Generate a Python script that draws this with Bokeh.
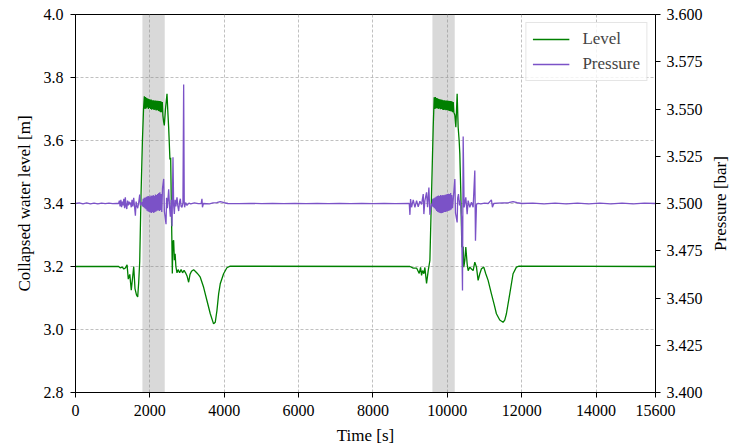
import math
from bokeh.plotting import figure
from bokeh.layouts import row
from bokeh.models import Range1d, LinearAxis, FixedTicker, BoxAnnotation, Legend, PrintfTickFormatter, Label
from bokeh.embed import file_html
from bokeh.resources import INLINE

# ---------------- data ----------------
time_ticks = [0, 2000, 4000, 6000, 8000, 10000, 12000, 14000, 15600]
level_ticks = [2.8, 3.0, 3.2, 3.4, 3.6, 3.8, 4.0]
pressure_ticks = [3.400, 3.425, 3.450, 3.475, 3.500, 3.525, 3.550, 3.575, 3.600]

band_start = [1800, 9600]
band_end = [2400, 10200]

level_time = [
    0, 1160, 1200, 1260, 1300, 1340, 1387, 1420, 1460, 1500, 1540, 1566, 1600, 1640, 1673, 1700,
    1727, 1763, 1800, 1830, 1852,
    1870, 1885, 1900, 1915, 1930, 1945, 1960, 1975, 1990, 2005, 2020, 2035, 2050, 2065, 2080,
    2095, 2110, 2125, 2140, 2155, 2170, 2185, 2200, 2215, 2230, 2245, 2260, 2275, 2290, 2305,
    2320, 2335, 2350, 2370, 2389, 2420, 2461, 2480, 2506, 2520, 2540, 2560, 2575, 2590, 2604,
    2620, 2640, 2660, 2680, 2700, 2730, 2760, 2800, 2840, 2880, 2920, 2960, 3000, 3043, 3080,
    3120, 3177, 3220, 3260, 3300, 3356, 3446, 3535, 3625, 3714, 3759, 3804, 3850, 3893, 3983,
    4072, 4161,
    8995, 9084, 9174, 9245, 9281, 9308, 9335, 9370, 9397, 9442, 9487, 9532, 9576, 9621, 9648,
    9665, 9680, 9695, 9710, 9725, 9740, 9755, 9770, 9785, 9800, 9815, 9830, 9845, 9860, 9875,
    9890, 9905, 9920, 9935, 9950, 9965, 9980, 9995, 10010, 10025, 10040, 10055, 10070, 10085,
    10100, 10115, 10130, 10145, 10160, 10176, 10203, 10230, 10265, 10292, 10319, 10337, 10364,
    10391, 10427, 10444, 10471, 10498, 10534, 10561, 10606, 10650, 10695, 10740, 10785, 10829,
    10874, 10919, 10981, 11035, 11098, 11187, 11260, 11321, 11411, 11500, 11545, 11590, 11680,
    11769, 11859, 11930, 15600,
]
level = [
    3.200, 3.200, 3.196, 3.198, 3.192, 3.195, 3.205, 3.160, 3.175, 3.125, 3.170, 3.200, 3.130, 3.110, 3.103, 3.150,
    3.215, 3.430, 3.600, 3.700, 3.740,
    3.700, 3.738, 3.702, 3.735, 3.705, 3.733, 3.700, 3.732, 3.703, 3.730, 3.700, 3.730, 3.698, 3.728, 3.700,
    3.728, 3.697, 3.727, 3.698, 3.727, 3.695, 3.726, 3.697, 3.726, 3.694, 3.725, 3.692, 3.725, 3.690, 3.724,
    3.690, 3.722, 3.680, 3.660, 3.648, 3.700, 3.748, 3.700, 3.640, 3.600, 3.540, 3.545, 3.420, 3.300, 3.178,
    3.280, 3.283, 3.220, 3.240, 3.200, 3.180, 3.190, 3.180, 3.190, 3.180, 3.188, 3.180, 3.170, 3.150, 3.175,
    3.185, 3.190, 3.185, 3.180, 3.175, 3.166, 3.134, 3.092, 3.050, 3.018, 3.023, 3.060, 3.113, 3.145, 3.177,
    3.196, 3.201,
    3.200, 3.195, 3.195, 3.178, 3.197, 3.172, 3.187, 3.177, 3.197, 3.146, 3.187, 3.219, 3.431, 3.642, 3.737,
    3.700, 3.738, 3.702, 3.735, 3.703, 3.734, 3.700, 3.732, 3.702, 3.731, 3.699, 3.730, 3.700, 3.729, 3.698,
    3.728, 3.697, 3.728, 3.698, 3.727, 3.696, 3.727, 3.697, 3.726, 3.695, 3.726, 3.694, 3.725, 3.693,
    3.725, 3.692, 3.724, 3.690, 3.722, 3.690, 3.680, 3.642, 3.748, 3.642, 3.600, 3.558, 3.431,
    3.262, 3.262, 3.198, 3.219, 3.262, 3.208, 3.187, 3.198, 3.192, 3.187, 3.214, 3.198, 3.156,
    3.177, 3.193, 3.198, 3.177, 3.156, 3.113, 3.080, 3.050, 3.030, 3.023, 3.030, 3.050, 3.113,
    3.177, 3.198, 3.201, 3.200,
]

pressure_time = [
    0, 100, 200, 300, 400, 500, 600, 700, 800, 900, 1000, 1100,
    1160, 1180, 1200, 1220, 1240, 1260, 1280, 1300, 1320, 1340, 1360, 1380, 1400, 1420, 1440,
    1460, 1480, 1500, 1520, 1540, 1566, 1611, 1630, 1650, 1673, 1700, 1727, 1745, 1770, 1790,
    1805, 1820, 1835, 1850, 1865, 1880, 1895, 1910, 1925, 1940, 1955, 1970, 1985, 2000, 2015,
    2030, 2045, 2060, 2075, 2090, 2105, 2120, 2135, 2150, 2165, 2180, 2195, 2210, 2225, 2240,
    2255, 2270, 2285, 2300, 2320, 2340, 2372, 2390, 2435, 2450, 2470, 2506, 2530, 2551, 2575,
    2596, 2622, 2640, 2658, 2680, 2700, 2730, 2750, 2775, 2800, 2820, 2840, 2864, 2890, 2909,
    2925, 2935, 2960, 2998, 3050, 3100, 3200, 3300, 3380, 3401, 3415, 3440, 3600, 3700, 3800,
    3893, 4000, 4100, 4400, 4700, 5000, 5300, 5600, 5900, 6200, 6500, 6800, 7100, 7400, 7700,
    8000, 8300, 8600, 8977,
    8995, 9012, 9039, 9084, 9129, 9174, 9218, 9263, 9308, 9353, 9370, 9397, 9442, 9469, 9505,
    9532, 9576, 9595, 9610, 9625, 9640, 9655, 9670, 9685, 9700, 9715, 9730, 9745, 9760, 9775,
    9790, 9805, 9820, 9835, 9850, 9865, 9880, 9895, 9910, 9925, 9940, 9955, 9970, 9985, 10000,
    10015, 10030, 10045, 10060, 10075, 10090, 10105, 10120, 10140, 10165, 10203, 10220, 10265,
    10280, 10300, 10330, 10350, 10382, 10409, 10427, 10453, 10498, 10534, 10561, 10606, 10650,
    10695, 10740, 10758, 10785, 10829, 10900, 11000, 11100, 11187, 11214, 11250, 11350, 11650,
    11769, 11880, 12000, 12300, 12600, 12900, 13200, 13500, 13800, 14100, 14400, 14700, 15000,
    15300, 15600,
]
pressure = [
    3.5000, 3.5003, 3.4998, 3.5003, 3.4998, 3.5002, 3.4998, 3.5002, 3.4999, 3.5002, 3.4999, 3.5001,
    3.5000, 3.5015, 3.4985, 3.5020, 3.4980, 3.5010, 3.4990, 3.5025, 3.4975, 3.5033, 3.4985, 3.4971, 3.5015, 3.4990, 3.5010,
    3.4995, 3.5005, 3.4980, 3.5020, 3.4985, 3.5030, 3.4935, 3.5010, 3.4990, 3.4975, 3.5005, 3.5047, 3.4990, 3.5000, 3.5008,
    3.4985, 3.5025, 3.4980, 3.5030, 3.4975, 3.5032, 3.4970, 3.5035, 3.4962, 3.5038, 3.4958, 3.5040, 3.4955, 3.5035, 3.4952,
    3.5042, 3.4950, 3.5040, 3.4955, 3.5045, 3.4950, 3.5040, 3.4955, 3.5048, 3.4958, 3.5045, 3.4962, 3.5050, 3.4965, 3.5055,
    3.4960, 3.5060, 3.4965, 3.5050, 3.4955, 3.5080, 3.5130, 3.4960, 3.4890, 3.5030, 3.4975, 3.5075, 3.4980, 3.4930, 3.5020,
    3.4880, 3.5245, 3.4990, 3.4945, 3.5020, 3.4985, 3.5033, 3.4990, 3.4960, 3.5010, 3.5025, 3.4985, 3.4980, 3.5005, 3.5630,
    3.5000, 3.4980, 3.5005, 3.4990, 3.5002, 3.4998, 3.5003, 3.4999, 3.5000, 3.5025, 3.4980, 3.5000, 3.4998, 3.5003, 3.5005,
    3.5010, 3.5004, 3.5000, 3.4999, 3.5001, 3.4999, 3.5001, 3.4999, 3.5001, 3.4999, 3.5001, 3.4999, 3.5001, 3.4999, 3.5001,
    3.4999, 3.5001, 3.4999, 3.5000,
    3.4940, 3.5024, 3.4980, 3.5019, 3.4980, 3.5015, 3.4983, 3.5012, 3.4995, 3.5050, 3.4944, 3.5015, 3.5059, 3.4980, 3.5085,
    3.4940, 3.5000, 3.4985, 3.5025, 3.4980, 3.5028, 3.4975, 3.5032, 3.4968, 3.5036, 3.4960, 3.5040, 3.4955, 3.5042, 3.4952,
    3.5040, 3.4950, 3.5045, 3.4948, 3.5042, 3.4950, 3.5045, 3.4952, 3.5044, 3.4955, 3.5046, 3.4955, 3.5048, 3.4958, 3.5050,
    3.4960, 3.5052, 3.4962, 3.5050, 3.4965, 3.5055, 3.4968, 3.5045, 3.4975, 3.5035, 3.5130, 3.4950, 3.4900,
    3.5030, 3.5050, 3.4990, 3.5015, 3.4930, 3.4540, 3.5354, 3.4980, 3.5033, 3.4944, 3.5015, 3.4980, 3.5007,
    3.4980, 3.5175, 3.4803, 3.4995, 3.5001, 3.4998, 3.5002, 3.5000, 3.5019, 3.4980, 3.5000, 3.5002, 3.5004,
    3.5010, 3.5004, 3.5000, 3.5002, 3.4998, 3.5002, 3.4998, 3.5002, 3.4998, 3.5002, 3.4998, 3.5002, 3.4998,
    3.5002, 3.5000,
]

# ---------------- styling ----------------
FONT = "Liberation Serif"
GREEN = "#008000"
PURPLE = "#7b52c7"

p = figure(width=705, height=448, output_backend="svg", toolbar_location=None,
           x_range=Range1d(0, 15600), y_range=Range1d(2.8, 4.0),
           min_border_left=75, min_border_right=49, min_border_top=14, min_border_bottom=56)
p.extra_y_ranges = {"pres": Range1d(3.4, 3.6)}

p.outline_line_color = "black"
p.outline_line_width = 1
p.background_fill_color = "white"
p.border_fill_color = "white"

for s, e in zip(band_start, band_end):
    p.add_layout(BoxAnnotation(left=s, right=e, fill_color="gray", fill_alpha=0.3,
                               line_color=None, level="underlay"))

r_level = p.line(level_time, level, line_color=GREEN, line_width=1.3)
r_pres = p.line(pressure_time, pressure, line_color=PURPLE, line_width=1.3, y_range_name="pres")

right_axis = LinearAxis(y_range_name="pres",
                        ticker=FixedTicker(ticks=pressure_ticks),
                        formatter=PrintfTickFormatter(format="%.3f"))
p.add_layout(right_axis, "right")

p.xaxis.ticker = FixedTicker(ticks=time_ticks)
p.yaxis[0].ticker = FixedTicker(ticks=level_ticks)
p.yaxis[0].formatter = PrintfTickFormatter(format="%.1f")

p.xaxis.axis_label = "Time [s]"
p.yaxis[0].axis_label = "Collapsed water level [m]"

for ax in [p.xaxis[0], p.yaxis[0], right_axis]:
    ax.axis_line_color = "black"
    ax.axis_line_width = 1
    ax.major_tick_line_color = "black"
    ax.major_tick_out = 5
    ax.major_tick_in = 0
    ax.minor_tick_out = 0
    ax.minor_tick_in = 0
    ax.major_label_standoff = 7
    ax.major_label_text_font = FONT
    ax.major_label_text_font_size = "16px"
    ax.major_label_text_color = "black"
    ax.axis_label_text_font = FONT
    ax.axis_label_text_font_size = "17px"
    ax.axis_label_text_font_style = "normal"
    ax.axis_label_text_color = "black"
    ax.axis_label_standoff = 7
right_axis.major_label_standoff = 6

p.xgrid.ticker = FixedTicker(ticks=time_ticks)
p.ygrid.ticker = FixedTicker(ticks=level_ticks)
for g in [p.xgrid[0], p.ygrid[0]]:
    g.grid_line_color = "#b0b0b0"
    g.grid_line_dash = "3 2"
    g.grid_line_width = 0.8

legend = Legend(items=[("Level", [r_level]), ("Pressure", [r_pres])], location="top_right")
legend.label_text_font = FONT
legend.label_text_font_size = "17px"
legend.border_line_color = "#cccccc"
legend.border_line_width = 1
legend.background_fill_color = "white"
legend.background_fill_alpha = 0.8
legend.padding = 6
legend.spacing = 5
legend.margin = 8
legend.glyph_width = 37
legend.glyph_height = 20
legend.label_height = 20
legend.label_standoff = 13
p.add_layout(legend)

# narrow strip on the right carrying the pressure-axis title, reading bottom to top
strip = figure(width=24, height=448, output_backend="svg", toolbar_location=None,
               x_axis_location=None, y_axis_location=None, min_border=0,
               x_range=Range1d(0, 1), y_range=Range1d(0, 1))
strip.outline_line_color = None
strip.background_fill_color = "white"
strip.border_fill_color = "white"
strip.grid.grid_line_color = None
strip.add_layout(Label(x=15, y=189, x_units="screen", y_units="screen", text="Pressure [bar]",
                       angle=math.pi / 2, text_align="center", text_baseline="middle",
                       text_font=FONT, text_font_size="17px", text_color="black"))

layout = row(p, strip, spacing=0)
open("out.html", "w").write(file_html(layout, INLINE))
